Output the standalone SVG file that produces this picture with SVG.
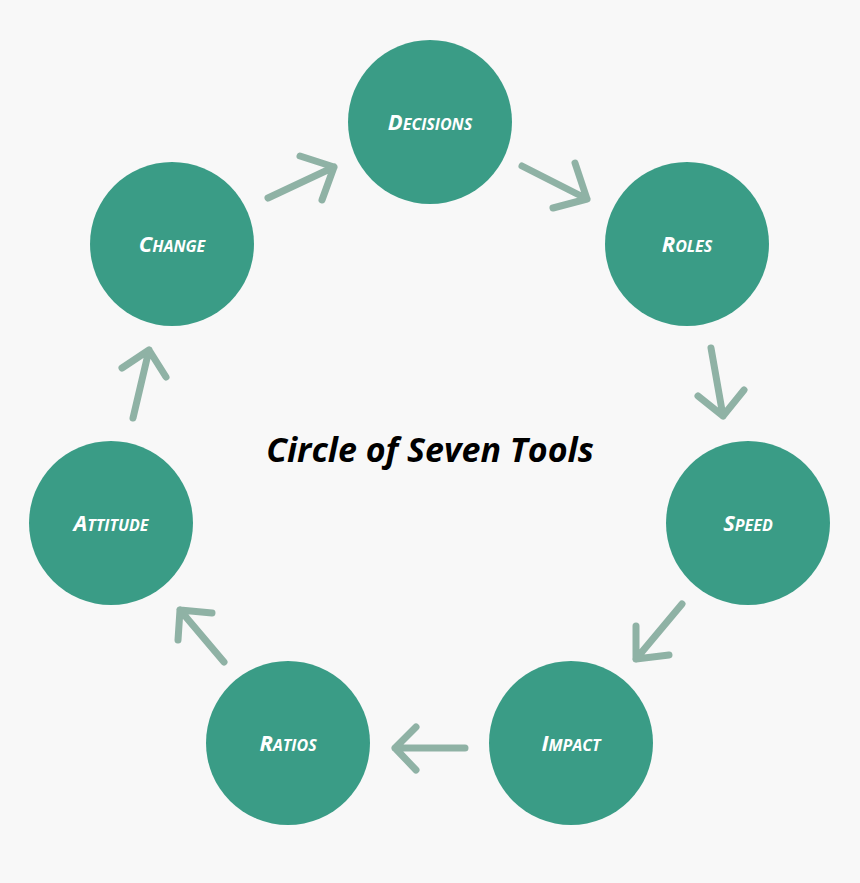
<svg xmlns="http://www.w3.org/2000/svg" width="860" height="883" viewBox="0 0 860 883">
<style>
.n{fill:#3a9c86}
.t{font-family:"Open Sans",sans-serif;font-weight:700;font-style:italic;fill:#fff;text-anchor:middle;font-size:16px}
.t .b{font-size:22px}
.a{fill:none;stroke:#8fb2a5;stroke-width:7;stroke-linecap:round;stroke-linejoin:round}
</style>
<rect width="860" height="883" fill="#f8f8f8"/>
<g id="connectors" class="a">
<path d="M268,198 L334,167 M300,156 L334,167 L322,200"/>
<path d="M522,166 L587,199 M575,163 L587,199 L553,208"/>
<path d="M711,348 L723,416 M698,396 L723,416 L744,390"/>
<path d="M682,604 L636,659 M636,626 L636,659 L669,655"/>
<path d="M465,748 L395,748 M416,727 L395,748 L416,770"/>
<path d="M224,662 L180,610 M178,640 L180,610 L212,613"/>
<path d="M133,418 L149,350 M122,368 L149,350 L166,377"/>
</g>
<g id="decisions"><circle class="n" cx="430" cy="122" r="82"/><text class="t" x="430" y="130"><tspan class="b">D</tspan>ECISIONS</text></g>
<g id="roles"><circle class="n" cx="687" cy="244" r="82"/><text class="t" x="687" y="252"><tspan class="b">R</tspan>OLES</text></g>
<g id="speed"><circle class="n" cx="748" cy="523" r="82"/><text class="t" x="748" y="531"><tspan class="b">S</tspan>PEED</text></g>
<g id="impact"><circle class="n" cx="571" cy="743" r="82"/><text class="t" x="571" y="751"><tspan class="b">I</tspan>MPACT</text></g>
<g id="ratios"><circle class="n" cx="288" cy="743" r="82"/><text class="t" x="288" y="751"><tspan class="b">R</tspan>ATIOS</text></g>
<g id="attitude"><circle class="n" cx="111" cy="523" r="82"/><text class="t" x="111" y="531"><tspan class="b">A</tspan>TTITUDE</text></g>
<g id="change"><circle class="n" cx="172" cy="244" r="82"/><text class="t" x="172" y="252"><tspan class="b">C</tspan>HANGE</text></g>
<text x="430" y="462" style="font-family:'Open Sans',sans-serif;font-weight:700;font-style:italic;font-size:34px;fill:#000;text-anchor:middle">Circle of Seven Tools</text>
</svg>
